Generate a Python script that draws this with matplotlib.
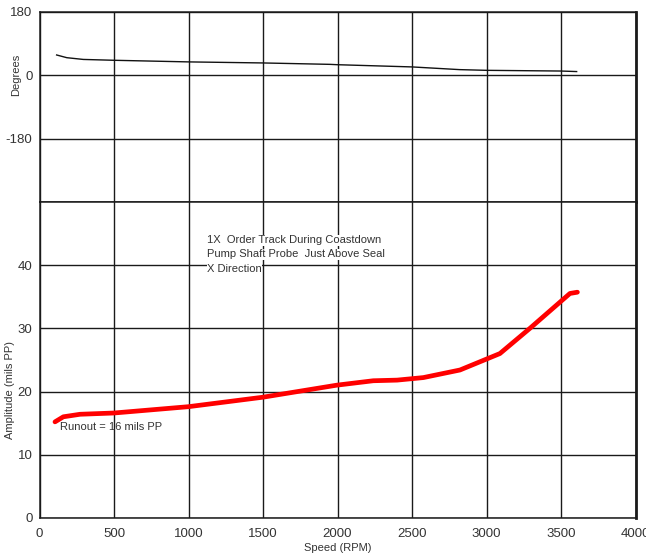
import matplotlib
matplotlib.use("Agg")
import matplotlib.pyplot as plt

plt.rcParams['font.family'] = ['Liberation Sans', 'DejaVu Sans']
plt.rcParams['axes.unicode_minus'] = False

# 1X phase vs speed
phase_rpm = [115, 183, 294, 500, 1000, 1500, 1950, 2000, 2500, 2820, 3000, 3500, 3605]
phase_deg = [57.7, 50, 45, 42.6, 38, 35, 31, 30, 23.7, 16, 14, 12, 10.5]

# 1X amplitude vs speed
amp_rpm = [104, 160, 272, 500, 1000, 1500, 1995, 2240, 2400, 2576, 2822, 3090, 3292, 3560, 3610]
amp_mils = [15.2, 16.0, 16.4, 16.6, 17.6, 19.1, 21.0, 21.7, 21.8, 22.2, 23.4, 26.0, 30.0, 35.5, 35.7]

x_ticks = [0, 500, 1000, 1500, 2000, 2500, 3000, 3500, 4000]
deg_ticks = [-180, 0, 180]
amp_ticks = [0, 10, 20, 30, 40]

title_lines = ["1X  Order Track During Coastdown",
               "Pump Shaft Probe  Just Above Seal",
               "X Direction"]
runout_note = "Runout = 16 mils PP"

fig = plt.figure(figsize=(6.46, 5.54), dpi=100)
gs = fig.add_gridspec(2, 1, height_ratios=[3, 5], hspace=0,
                      left=39.5/646, right=635.5/646,
                      top=1 - 12/554, bottom=1 - 518/554)
ax_ph = fig.add_subplot(gs[0])
ax_amp = fig.add_subplot(gs[1], sharex=ax_ph)

txt_color = '#333333'
for ax in (ax_ph, ax_amp):
    ax.set_xlim(0, 4000)
    ax.set_xticks(x_ticks)
    ax.grid(True, color='#1a1a1a', linewidth=1.0)
    ax.set_axisbelow(True)
    ax.tick_params(length=0, labelsize=9.5, labelcolor=txt_color, pad=5)
    ax.tick_params(axis='x', pad=7)
    for s in ax.spines.values():
        s.set_color('#1a1a1a')
        s.set_linewidth(1.1)
    ax.spines['right'].set_linewidth(2.0)

ax_ph.set_ylim(-360, 180)
ax_ph.set_yticks(deg_ticks)
ax_ph.tick_params(labelbottom=False)
ax_ph.plot(phase_rpm, phase_deg, color='#111111', linewidth=1.0)

ax_amp.set_ylim(0, 50)
ax_amp.set_yticks(amp_ticks)
ax_amp.plot(amp_rpm, amp_mils, color='#ff0000', linewidth=3.4,
            solid_capstyle='round', solid_joinstyle='round')

for line, y in zip(title_lines, [43.9, 41.7, 39.4]):
    ax_amp.text(1125, y, line, fontsize=8, color=txt_color, va='center', ha='left',
                bbox=dict(facecolor='white', edgecolor='none', pad=0.3))
ax_amp.text(140, 14.4, runout_note, fontsize=8, color=txt_color, va='center', ha='left')

fig.text(16/646, 1 - 75/554, "Degrees", rotation=90, fontsize=8, color=txt_color,
         ha='center', va='center')
fig.text(10/646, 1 - 390/554, "Amplitude (mils PP)", rotation=90, fontsize=8,
         color=txt_color, ha='center', va='center')
fig.text(337.5/646, 1 - 548/554, "Speed (RPM)", fontsize=8, color=txt_color,
         ha='center', va='center')

fig.savefig("out.png", dpi=100, facecolor='white')
